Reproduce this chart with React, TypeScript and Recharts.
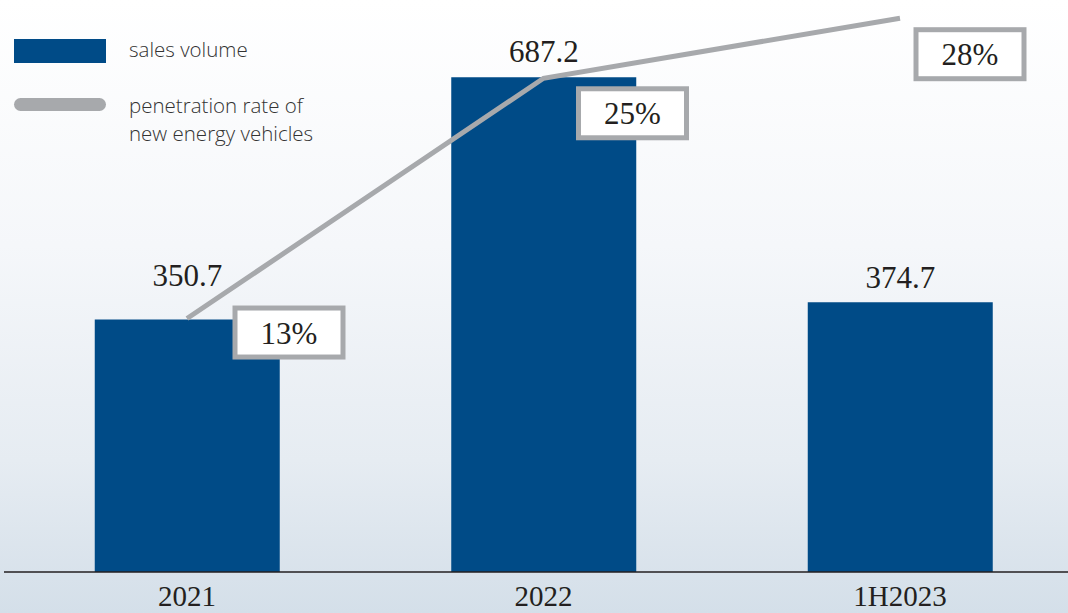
import { ComposedChart, Bar, Line, XAxis, YAxis, LabelList } from 'recharts';

const categories = ['2021', '2022', '1H2023'];
const salesVolume = [350.7, 687.2, 374.7];
const penetrationRate = [13, 25, 28];

const BLUE = '#004b87';
const GREY = '#a7a9ac';
const SERIF = '"Liberation Serif", "Times New Roman", serif';
const SANS = '"Open Sans", "Noto Sans", sans-serif';

// how far each value label sits above its bar (the 2021 one is pushed up clear of the line)
const valueLift = [33, 15, 14];
// where each percentage box sits relative to its line point
const boxShift = [
  { dx: 102, dy: 14 },
  { dx: 89, dy: 35 },
  { dx: 70, dy: 36 },
];

const data = categories.map((name, i) => ({
  name,
  sales: salesVolume[i],
  rate: penetrationRate[i],
}));

function XTick({ x, y, payload }: any) {
  return (
    <text x={x} y={y + 34} textAnchor="middle" fontFamily={SERIF} fontSize={29} fill="#231f20">
      {payload.value}
    </text>
  );
}

function ValueLabel({ x, y, width, value, index }: any) {
  return (
    <text
      x={x + width / 2}
      y={y - valueLift[index]}
      textAnchor="middle"
      fontFamily={SERIF}
      fontSize={31}
      fill="#231f20"
    >
      {value}
    </text>
  );
}

function RateBox({ x, y, value, index }: any) {
  const w = 108;
  const h = 49;
  const cx = x + boxShift[index].dx;
  const cy = y + boxShift[index].dy;
  return (
    <g>
      <rect x={cx - w / 2} y={cy - h / 2} width={w} height={h} fill="#fff" stroke={GREY} strokeWidth={5} />
      <text x={cx} y={cy + 11} textAnchor="middle" fontFamily={SERIF} fontSize={31} fill="#231f20">
        {value}%
      </text>
    </g>
  );
}

export default function App() {
  return (
    <div
      style={{
        position: 'absolute',
        left: 0,
        top: 0,
        width: 1068,
        height: 613,
        overflow: 'hidden',
        background: 'linear-gradient(to bottom, #ffffff 0%, #f5f7fa 40%, #e6ecf2 75%, #d4dfe9 100%)',
      }}
    >
      <ComposedChart width={1080} height={613} data={data} margin={{ top: 8, right: 0, bottom: 0, left: 4 }}>
        <XAxis
          dataKey="name"
          height={41}
          padding={{ left: 4.75, right: 1.75 }}
          axisLine={{ stroke: '#231f20', strokeWidth: 1.5 }}
          tickLine={false}
          tickSize={0}
          tickMargin={0}
          tick={<XTick />}
          interval={0}
        />
        <YAxis yAxisId="sales" hide domain={[0, 783.3]} />
        <YAxis yAxisId="rate" hide orientation="right" domain={[0.34, 28.51]} />
        <Bar yAxisId="sales" dataKey="sales" fill={BLUE} barSize={185} isAnimationActive={false}>
          <LabelList dataKey="sales" content={<ValueLabel />} />
        </Bar>
        <Line
          yAxisId="rate"
          dataKey="rate"
          type="linear"
          stroke={GREY}
          strokeWidth={5}
          strokeLinecap="butt"
          dot={false}
          activeDot={false}
          isAnimationActive={false}
        >
          <LabelList dataKey="rate" content={<RateBox />} />
        </Line>
      </ComposedChart>

      <div style={{ position: 'absolute', left: 14, top: 39, width: 92, height: 24, background: BLUE }} />
      <div
        style={{
          position: 'absolute',
          left: 14,
          top: 98,
          width: 92,
          height: 13,
          borderRadius: 7,
          background: GREY,
        }}
      />
      <div
        style={{
          position: 'absolute',
          left: 129,
          top: 35,
          fontFamily: SANS,
          fontSize: 20.5,
          fontWeight: 300,
          color: '#333',
          lineHeight: '28px',
        }}
      >
        sales volume
      </div>
      <div
        style={{
          position: 'absolute',
          left: 129,
          top: 91,
          fontFamily: SANS,
          fontSize: 20.5,
          fontWeight: 300,
          color: '#333',
          lineHeight: '28px',
        }}
      >
        penetration rate of
        <br />
        new energy vehicles
      </div>
    </div>
  );
}
